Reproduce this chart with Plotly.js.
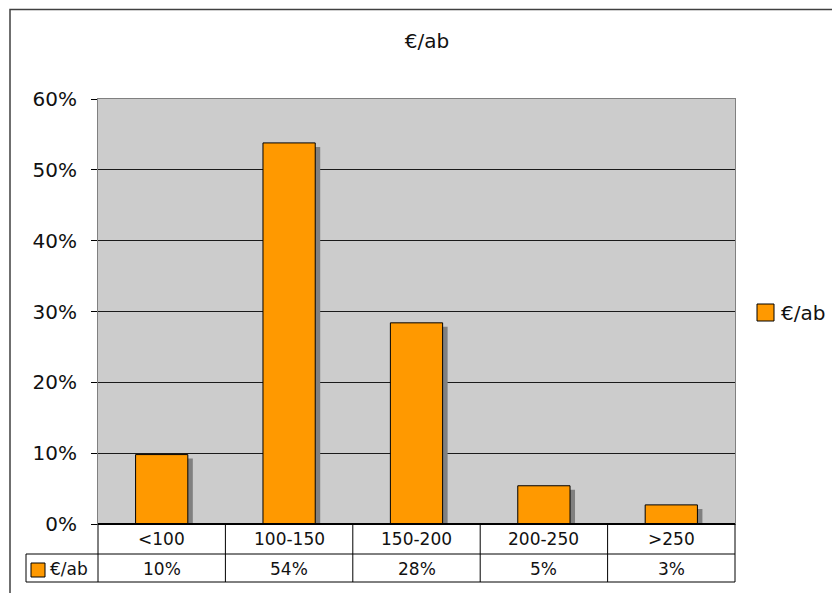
<!DOCTYPE html>
<html>
<head>
<meta charset="utf-8">
<script src="https://cdn.plot.ly/plotly-3.0.1.min.js"></script>
<style>html,body{margin:0;padding:0;background:#fff;}#chart{width:832px;height:593px;}</style>
</head>
<body>
<div id="chart"></div>
<script>
// ---- data ----
var categories = ['<100', '100-150', '150-200', '200-250', '>250'];
var shares = [0.098, 0.538, 0.284, 0.054, 0.027];
var tableLabels = ['10%', '54%', '28%', '5%', '3%'];
var seriesName = '€/ab';
var yTicks = [0, 0.1, 0.2, 0.3, 0.4, 0.5, 0.6];

// ---- layout constants ----
var W = 832, H = 593;
var mL = 98, mR = 97, mT = 99, mB = 69;
var plotW = W - mL - mR, plotH = H - mT - mB;
function px2x(px) { return (px - mL) / plotW; }
function py2y(py) { return (H - mB - py) / plotH; }
var yShift = 4 * 0.6 / plotH;      // shadow drop
var barW = 0.41;
var shadowDx = 5 / (plotW / categories.length);

var FONT = 'DejaVu Sans, Verdana, sans-serif';
var orange = '#FF9900';
var TXT = '#111';

var shadow = {
  type: 'bar', x: categories, y: shares, yaxis: 'y', xaxis: 'x',
  width: barW, offset: -barW / 2 + shadowDx,
  marker: {color: '#808080', line: {width: 0}},
  showlegend: false, hoverinfo: 'skip'
};
var bars = {
  type: 'bar', x: categories, y: shares, yaxis: 'y2', xaxis: 'x',
  width: barW, offset: -barW / 2, name: seriesName, showlegend: false,
  marker: {color: orange, line: {color: '#000', width: 1}}
};

var shapes = [];
var annotations = [];
var r1 = py2y(554), r2 = py2y(582), tl = px2x(26);
// outer chart border
shapes.push({type: 'rect', xref: 'paper', yref: 'paper', x0: px2x(10), x1: px2x(900), y0: py2y(9.5), y1: py2y(700),
  line: {color: '#404040', width: 1.5}});
// table lines
shapes.push({type: 'line', xref: 'paper', yref: 'paper', x0: 0, x1: 1, y0: 0, y1: 0, line: {color: '#000', width: 2}});
shapes.push({type: 'line', xref: 'paper', yref: 'paper', x0: tl, x1: 1, y0: r1, y1: r1, line: {color: '#000', width: 1}});
shapes.push({type: 'line', xref: 'paper', yref: 'paper', x0: tl, x1: 1, y0: r2, y1: r2, line: {color: '#000', width: 1}});
shapes.push({type: 'line', xref: 'paper', yref: 'paper', x0: tl, x1: tl, y0: r1, y1: r2, line: {color: '#000', width: 1}});
for (var i = 0; i <= categories.length; i++) {
  var xx = i / categories.length;
  shapes.push({type: 'line', xref: 'paper', yref: 'paper', x0: xx, x1: xx, y0: 0, y1: r2, line: {color: '#000', width: 1}});
}
// legend key in table
shapes.push({type: 'rect', xref: 'paper', yref: 'paper', x0: px2x(31), x1: px2x(45), y0: py2y(577), y1: py2y(563),
  fillcolor: orange, line: {color: '#000', width: 1}});
annotations.push({xref: 'paper', yref: 'paper', x: px2x(48), y: py2y(569), xanchor: 'left', yanchor: 'middle',
  text: seriesName, showarrow: false, font: {family: FONT, size: 17, color: TXT}});
categories.forEach(function (c, k) {
  annotations.push({xref: 'x', yref: 'paper', x: c, y: py2y(539), xanchor: 'center', yanchor: 'middle',
    text: c.replace('<', '&lt;').replace('>', '&gt;'), showarrow: false, font: {family: FONT, size: 17, color: TXT}});
  annotations.push({xref: 'x', yref: 'paper', x: c, y: py2y(569), xanchor: 'center', yanchor: 'middle',
    text: tableLabels[k], showarrow: false, font: {family: FONT, size: 17, color: TXT}});
});
// right-hand legend
shapes.push({type: 'rect', xref: 'paper', yref: 'paper', x0: px2x(757), x1: px2x(774), y0: py2y(321), y1: py2y(304),
  fillcolor: orange, line: {color: '#000', width: 1}});
annotations.push({xref: 'paper', yref: 'paper', x: px2x(779), y: py2y(313), xanchor: 'left', yanchor: 'middle',
  text: seriesName, showarrow: false, font: {family: FONT, size: 20, color: TXT}});

var layout = {
  width: W, height: H,
  margin: {l: mL, r: mR, t: mT, b: mB, pad: 0},
  paper_bgcolor: '#fff', plot_bgcolor: '#CCCCCC',
  barmode: 'overlay',
  title: {text: seriesName, x: 427 / W, xanchor: 'center', y: 1 - 41 / H, yanchor: 'middle',
    font: {family: FONT, size: 20, color: TXT}},
  xaxis: {type: 'category', range: [-0.5, categories.length - 0.5], showticklabels: false, ticks: '',
    showgrid: false, zeroline: false, showline: true, mirror: true, linecolor: '#808080', linewidth: 1, fixedrange: true},
  yaxis: {range: [yShift, 0.6 + yShift], visible: false, showgrid: false, zeroline: false, fixedrange: true},
  yaxis2: {overlaying: 'y', side: 'left', range: [0, 0.6], tickvals: yTicks, tickformat: '.0%',
    showgrid: true, gridcolor: '#1a1a1a', gridwidth: 1, zeroline: false,
    showline: true, mirror: true, linecolor: '#808080', linewidth: 1,
    ticks: 'outside', ticklen: 6, tickcolor: '#000', ticklabelstandoff: 10,
    tickfont: {family: FONT, size: 20, color: TXT}, fixedrange: true},
  showlegend: false,
  shapes: shapes, annotations: annotations
};

Plotly.newPlot('chart', [shadow, bars], layout, {displayModeBar: false, staticPlot: true});
</script>
</body>
</html>
